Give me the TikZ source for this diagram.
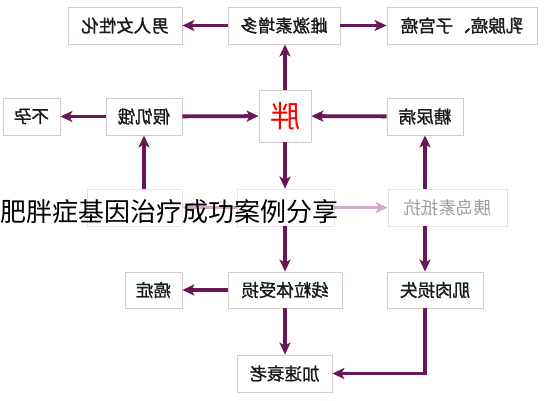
\documentclass[tikz,border=0pt]{standalone}
\usepackage{fontspec}
\usepackage{graphicx}
\newfontfamily\cjk{Noto Sans CJK SC}
\newfontfamily\cjkb[FakeBold=1.2]{Noto Sans CJK SC}
\usetikzlibrary{arrows.meta,calc}
\definecolor{arr}{HTML}{6A1757}
\definecolor{bord}{HTML}{D9C7CE}
\definecolor{fbord}{HTML}{ECE2E6}
\definecolor{faint}{HTML}{D8A8C8}
\definecolor{txt}{HTML}{1A1A1A}
\begin{document}
\begin{tikzpicture}[x=1pt,y=-1pt,
  box/.style={draw=bord,line width=0.8pt,fill=white,inner sep=0pt,text=txt,
    font=\cjkb\fontsize{17.5}{17.5}\selectfont,minimum height=37pt},
  fbox/.style={box,draw=fbord},
  conn/.style={draw=arr,line width=3.8pt,-{Stealth[length=12pt,width=11pt,inset=3pt]}},
  fconn/.style={conn,draw=faint},
]
\useasboundingbox (0,0) rectangle (545,400);
\fill[white] (0,0) rectangle (545,400);
% row 1
\node[box,minimum width=114pt] (fem) at (125,25.5) {\reflectbox{男人女性化}};
\node[box,minimum width=112pt] (estr) at (284,25.5) {\reflectbox{雌激素增多}};
\node[box,minimum width=150pt] (bc) at (462,25.5) {\reflectbox{乳腺癌、子宫癌}};
% row 2
\node[box,minimum width=57pt] (inf) at (31.5,116.5) {\reflectbox{不孕}};
\node[box,minimum width=76pt] (hung) at (144,116.5) {\reflectbox{假饥饿}};
\node[box,minimum width=52pt,minimum height=52pt,text=red,
  font=\cjk\fontsize{30}{30}\selectfont] (fat) at (285,116) {\reflectbox{胖}};
\node[box,minimum width=76pt] (diab) at (425,116.5) {\reflectbox{糖尿病}};
% row 3 (faded)
\node[fbox,minimum width=95pt] (lep) at (134.5,207.5) {};
\node[fbox,minimum width=97pt] (infl) at (285.5,207.5) {};
\node[fbox,minimum width=119pt,text=black!38,font=\cjk\fontsize{17.5}{17.5}\selectfont] (ins) at (447.5,207.5) {\reflectbox{胰岛素抵抗}};
% row 4
\node[box,minimum width=57pt,minimum height=36pt] (canc) at (153.5,290) {\reflectbox{癌症}};
\node[box,minimum width=114pt,minimum height=36pt] (mito) at (285,290) {\reflectbox{线粒体受损}};
\node[box,minimum width=96pt,minimum height=36pt] (musc) at (435,290) {\reflectbox{肌肉损失}};
% row 5
\node[box,minimum width=95pt] (age) at (284.5,373.5) {\reflectbox{加速衰老}};
% connectors
\draw[conn] (estr) -- (fem);
\draw[conn] (estr) -- (bc);
\draw[conn] (fat.north) -- (fat.north |- estr.south);
\draw[conn] (hung) -- (inf);
\draw[conn] (hung) -- (fat);
\draw[conn] (diab) -- (fat);
\draw[conn] (lep.north -| hung.south) -- (hung.south);
\draw[conn] (fat.south) -- (fat.south |- infl.north);
\draw[conn] (ins.north -| diab.south) -- (diab.south);
\draw[fconn] (infl) -- (ins);
\draw[fconn] (infl) -- (lep);
\draw[conn] (infl.south -| fat.south) -- (mito.north -| fat.south);
\draw[conn] (ins.south -| diab.south) -- (musc.north -| diab.south);
\draw[conn] (mito) -- (canc);
\draw[conn] (mito.south -| fat.south) -- (age.north -| fat.south);
\draw[conn] (musc.south -| diab.south) |- (age.east);
% overlay title
\node[anchor=west,inner sep=0pt,text=black,font=\cjk\fontsize{26}{26}\selectfont] (title) at (0,212) {肥胖症基因治疗成功案例分享};
\end{tikzpicture}
\end{document}
